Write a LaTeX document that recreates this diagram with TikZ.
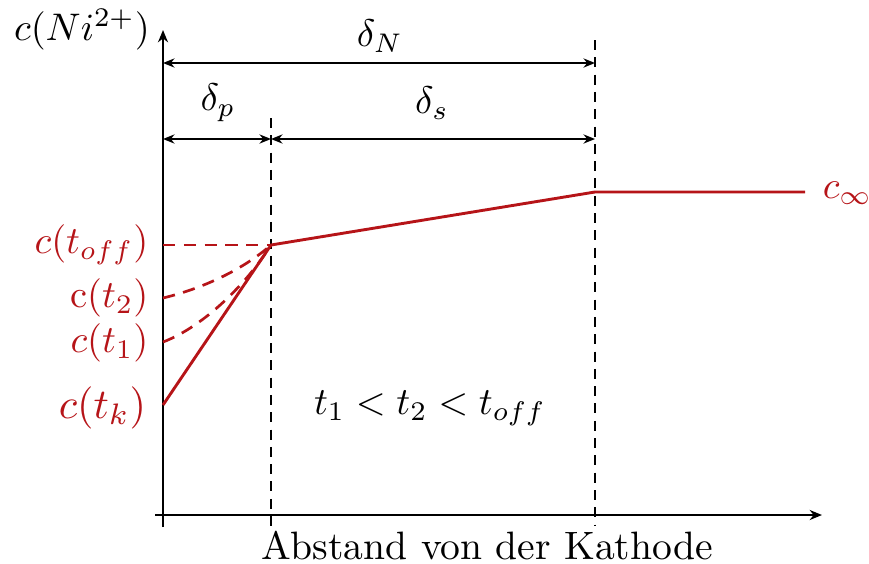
\documentclass[tikz,border=0pt]{standalone}
\usetikzlibrary{arrows.meta}
\definecolor{myred}{RGB}{182,20,24}
\begin{document}
\begin{tikzpicture}[x=0.26pt,y=-0.26pt,
  axis/.style={line width=0.55pt,-{Stealth[length=3.2pt,width=2.6pt]}},
  dim/.style={line width=0.5pt,{Stealth[length=3pt,width=2.4pt]}-{Stealth[length=3pt,width=2.4pt]}},
  guide/.style={line width=0.55pt,dash pattern=on 2.6pt off 1.9pt},
  curve/.style={myred,line width=0.75pt},
  dcurve/.style={myred,line width=0.7pt,dash pattern=on 3.2pt off 2.2pt},
  lab/.style={inner sep=0pt},
  rlab/.style={inner sep=0pt,text=myred,anchor=east}]
\useasboundingbox (0,0) rectangle (869,563);
% axes
\coordinate (yb) at (163,527);
\coordinate (yt) at (163,30);
\coordinate (xl) at (155,515);
\coordinate (xr) at (822,515);
\draw[axis] (yb) -- (yt);
\draw[axis] (xl) -- (xr);
% guides
\coordinate (g1t) at (271,118);
\coordinate (g1b) at (271,526);
\coordinate (g2t) at (595,40);
\coordinate (g2b) at (595,526);
\draw[guide] (g1t) -- (g1b);
\draw[guide] (g2t) -- (g2b);
% dimension arrows
\coordinate (dNl) at (163,63);
\coordinate (dNr) at (595,63);
\coordinate (dpl) at (163,139);
\coordinate (dpm) at (271,139);
\coordinate (dsr) at (595,139);
\draw[dim] (dNl) -- (dNr);
\draw[dim] (dpl) -- (dpm);
\draw[dim] (dpm) -- (dsr);
\node[lab] (dN) at (380,36) {$\delta_N$};
\node[lab] (dp) at (218,103) {$\delta_p$};
\node[lab] (ds) at (432,103) {$\delta_s$};
\node[lab] (ylab) at (82,30) {$c(Ni^{2+})$};
\node[lab,scale=1.03] (xlab) at (487,546) {Abstand von der Kathode};
\node[lab] (ineq) at (430,408) {$t_1 < t_2 < t_{off}$};
% concentration profile
\coordinate (pk) at (163,405);
\coordinate (pm) at (271,245);
\coordinate (pn) at (595,192);
\coordinate (pe) at (805,192);
\coordinate (poff) at (163,245);
\coordinate (p2) at (163,298);
\coordinate (p1) at (163,342);
\draw[curve] (pk) -- (pm) -- (pn) -- (pe);
\draw[dcurve] (poff) -- (pm);
\draw[dcurve] (p2) .. controls (205,288) and (245,268) .. (pm);
\draw[dcurve] (p1) .. controls (205,326) and (248,282) .. (pm);
\node[lab,text=myred,anchor=west] (cinf) at (822,193) {$c_\infty$};
\node[rlab] (coff) at (149,245) {$c(t_{off})$};
\node[rlab] (c2) at (149,298) {$\mathrm{c}(t_2)$};
\node[rlab] (c1) at (149,343) {$c(t_1)$};
\node[rlab,scale=1.1] (ck) at (147,408) {$c(t_k)$};
\end{tikzpicture}
\end{document}
